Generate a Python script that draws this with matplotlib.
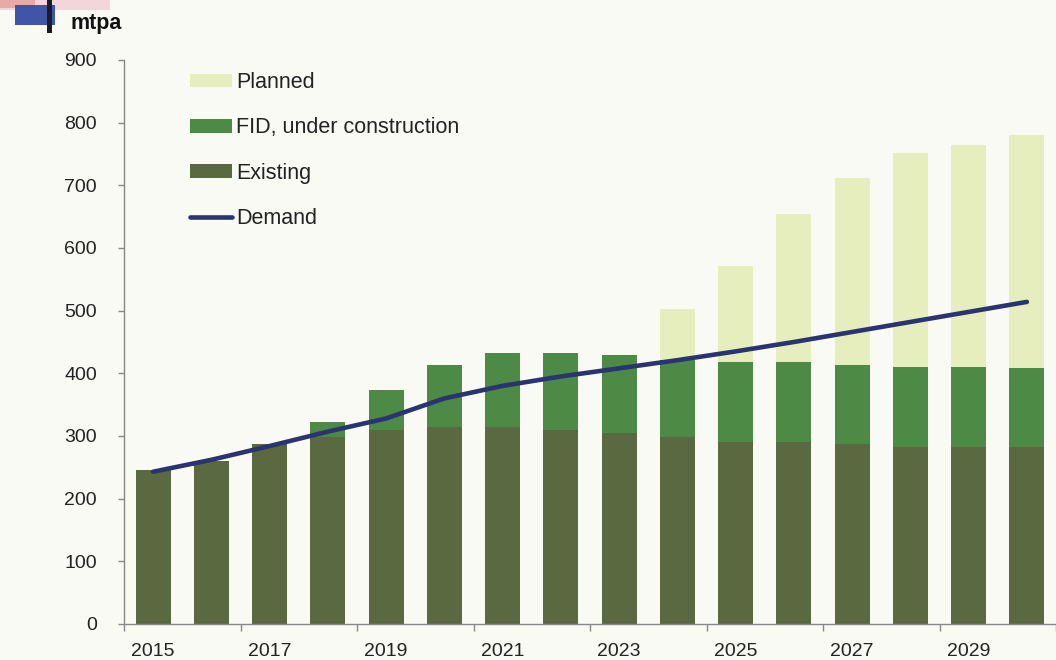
import matplotlib
matplotlib.use("Agg")
import matplotlib.pyplot as plt
import numpy as np
from matplotlib.patches import Rectangle

years = list(range(2015, 2031))
existing = [245, 260, 287, 298, 310, 314, 314, 310, 304, 299, 290, 290, 287, 282, 282, 282]
fid_top = [245, 260, 287, 322, 373, 414, 433, 433, 429, 421, 418, 418, 413, 410, 410, 408]
planned_top = [245, 260, 287, 322, 373, 414, 433, 433, 429, 502, 571, 654, 711, 751, 764, 780]
demand = [243, 262, 284, 307, 328, 360, 380, 395, 408, 421, 435, 450, 466, 482, 498, 514]
y_ticks = [0, 100, 200, 300, 400, 500, 600, 700, 800, 900]

fid = [f - e for f, e in zip(fid_top, existing)]
planned = [p - f for p, f in zip(planned_top, fid_top)]

plt.rcParams['font.family'] = ['Liberation Sans', 'DejaVu Sans']

W, H = 1056, 660
bg = '#FAFAF4'
fig = plt.figure(figsize=(W / 100, H / 100), dpi=100, facecolor=bg)

# decoration top-left
fig.patches.append(Rectangle((0 / W, 1 - 10 / H), 110 / W, 10 / H, transform=fig.transFigure,
                             facecolor='#F2D6DA', edgecolor='none', zorder=0))
fig.patches.append(Rectangle((0 / W, 1 - 8 / H), 35 / W, 8 / H, transform=fig.transFigure,
                             facecolor='#E8A9A9', edgecolor='none', zorder=1))
fig.patches.append(Rectangle((15 / W, 1 - 25 / H), 40 / W, 20 / H, transform=fig.transFigure,
                             facecolor='#3F55A8', edgecolor='none', zorder=2))
fig.patches.append(Rectangle((47 / W, 1 - 33 / H), 5 / W, 33 / H, transform=fig.transFigure,
                             facecolor='#1A1A2A', edgecolor='none', zorder=3))

left_px, bottom_px, top_px = 124, 624, 60
cat_w = 58.9
ax = fig.add_axes([left_px / W, (H - bottom_px) / H, (W - left_px) / W, (bottom_px - top_px) / H])
ax.set_facecolor(bg)

x = np.arange(len(years))
c_exist = '#5B6940'
c_fid = '#4C8A45'
c_plan = '#E6EEBE'
c_dem = '#2A3470'
bw = 0.6

b3 = ax.bar(x, planned, bw, bottom=fid_top, color=c_plan, label='Planned', zorder=2)
b2 = ax.bar(x, fid, bw, bottom=existing, color=c_fid, label='FID, under construction', zorder=2)
b1 = ax.bar(x, existing, bw, color=c_exist, label='Existing', zorder=2)
ln, = ax.plot(x, demand, color=c_dem, lw=3.3, label='Demand', zorder=3, solid_capstyle='round')

ax.set_ylim(0, 900)
ax.set_xlim(-0.5, -0.5 + (W - left_px) / cat_w)
ax.set_yticks(y_ticks)
ax.set_yticklabels([str(v) for v in y_ticks], fontsize=14, color='#222222')
ax.tick_params(axis='y', length=4, width=1, color='#888888', pad=15.5, direction='out')

ax.set_xticks(x[::2])
ax.set_xticklabels([str(y) for y in years[::2]], fontsize=14, color='#222222')
ax.tick_params(axis='x', which='major', length=0, pad=14)
ax.set_xticks(np.arange(-0.5, 15.6, 2), minor=True)
ax.tick_params(axis='x', which='minor', length=5, width=1, color='#888888', direction='out')

for s in ['top', 'right']:
    ax.spines[s].set_visible(False)
for s in ['left', 'bottom']:
    ax.spines[s].set_color('#888888')
    ax.spines[s].set_linewidth(1)

fig.text(70 / W, 1 - 23 / H, 'mtpa', fontsize=15.5, fontweight='bold', va='center', ha='left', color='#111111')

leg = fig.legend([b3, b2, b1, ln], ['Planned', 'FID, under construction', 'Existing', 'Demand'],
                 loc='upper left', bbox_to_anchor=(190 / W, 1 - 72 / H), frameon=False,
                 fontsize=15.5, handlelength=1.95, handleheight=0.6, handletextpad=0.2,
                 labelspacing=1.13, borderpad=0, borderaxespad=0)
for t in leg.get_texts():
    t.set_color('#222222')

fig.savefig('out.png', dpi=100, facecolor=bg)
